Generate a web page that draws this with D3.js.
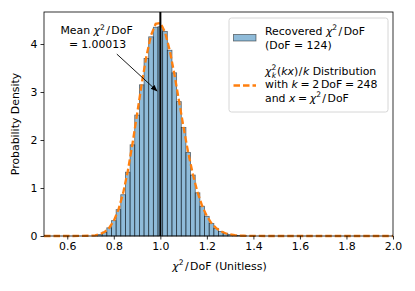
<!DOCTYPE html>
<html>
<head>
<meta charset="utf-8">
<script src="https://cdn.jsdelivr.net/npm/d3@7"></script>
<style>
  body { margin: 0; background: #fff; }
  text { font-family: "DejaVu Sans", sans-serif; fill: #000; }
</style>
</head>
<body>
<script>
// histogram bins (left edge, width 0.02) and densities
const binStart = [0.71, 0.73, 0.75, 0.77, 0.79, 0.81, 0.83, 0.85, 0.87, 0.89,
                  0.91, 0.93, 0.95, 0.97, 0.99, 1.01, 1.03, 1.05, 1.07, 1.09,
                  1.11, 1.13, 1.15, 1.17, 1.19, 1.21, 1.23, 1.25, 1.27, 1.29,
                  1.31, 1.33, 1.35];
const binWidth = 0.02;
const binHeight = [0.01, 0.03, 0.08, 0.17, 0.32, 0.55, 0.86, 1.33, 1.90, 2.52,
                   3.15, 3.70, 4.15, 4.35, 4.36, 4.26, 3.87, 3.40, 2.80, 2.26,
                   1.74, 1.27, 0.90, 0.62, 0.41, 0.26, 0.16, 0.095, 0.055, 0.03,
                   0.017, 0.009, 0.005];

// dashed reference curve
const curveX = [0.50, 0.60, 0.66, 0.70, 0.72, 0.74, 0.76, 0.78, 0.80, 0.82,
                0.84, 0.86, 0.88, 0.90, 0.92, 0.94, 0.96, 0.98, 1.00, 1.02,
                1.04, 1.06, 1.08, 1.10, 1.12, 1.14, 1.16, 1.18, 1.20, 1.22,
                1.24, 1.26, 1.28, 1.30, 1.32, 1.34, 1.36, 1.40, 1.50, 1.70, 2.00];
const curveY = [0.0, 0.0, 0.001, 0.006, 0.015, 0.037, 0.082, 0.167, 0.315, 0.550,
                0.892, 1.349, 1.911, 2.539, 3.173, 3.743, 4.182, 4.420, 4.440, 4.248,
                3.877, 3.382, 2.823, 2.258, 1.734, 1.281, 0.911, 0.624, 0.413, 0.264,
                0.164, 0.098, 0.057, 0.032, 0.018, 0.009, 0.005, 0.001, 0.0, 0.0, 0.0];

const meanValue = 1.00013;
const xTicks = [0.6, 0.8, 1.0, 1.2, 1.4, 1.6, 1.8, 2.0];
const yTicks = [0, 1, 2, 3, 4];

const W = 415, H = 291;
const margin = {top: 12, right: 22, bottom: 55, left: 44};
const width = W - margin.left - margin.right;
const height = H - margin.top - margin.bottom;
const fs = 10.9;
const ss = "7.6px"; // script size

const svg = d3.select("body").append("svg")
    .attr("width", W).attr("height", H);
const g = svg.append("g")
    .attr("transform", `translate(${margin.left},${margin.top})`);

const x = d3.scaleLinear().domain([0.5, 2.0]).range([0, width]);
const y = d3.scaleLinear().domain([0, 4.667]).range([height, 0]);

// bars
g.append("g")
    .selectAll("rect")
    .data(binStart.map((s, i) => ({s: s, h: binHeight[i]})))
    .join("rect")
    .attr("x", d => x(d.s))
    .attr("y", d => y(d.h))
    .attr("width", d => x(d.s + binWidth) - x(d.s))
    .attr("height", d => y(0) - y(d.h))
    .attr("fill", "#1f77b4").attr("fill-opacity", 0.5)
    .attr("stroke", "#000").attr("stroke-opacity", 0.55).attr("stroke-width", 0.8);

// reference curve
const line = d3.line().x(d => x(d[0])).y(d => y(d[1]));
g.append("path")
    .datum(curveX.map((v, i) => [v, curveY[i]]))
    .attr("d", line)
    .attr("fill", "none")
    .attr("stroke", "#ff7f0e")
    .attr("stroke-width", 2.3)
    .attr("stroke-dasharray", "6.5,3");

// mean line
g.append("line")
    .attr("x1", x(meanValue)).attr("x2", x(meanValue))
    .attr("y1", 0).attr("y2", height)
    .attr("stroke", "#000").attr("stroke-width", 2);

// axes
const xAxis = g.append("g")
    .attr("transform", `translate(0,${height})`)
    .call(d3.axisBottom(x).tickValues(xTicks).tickFormat(d3.format(".1f")).tickSizeOuter(0).tickSize(3.5));
const yAxis = g.append("g")
    .call(d3.axisLeft(y).tickValues(yTicks).tickFormat(d3.format("d")).tickSizeOuter(0).tickSize(3.5));
[xAxis, yAxis].forEach(a => {
    a.select(".domain").remove();
    a.selectAll("line").attr("stroke", "#000").attr("stroke-width", 0.8);
    a.selectAll("text").style("font-size", fs + "px").attr("fill", "#000")
        .style("font-family", "DejaVu Sans");
});
xAxis.selectAll("text").attr("dy", "0.75em").attr("y", 6);
yAxis.selectAll("text").attr("x", -6.5);

// frame
g.append("rect")
    .attr("width", width).attr("height", height)
    .attr("fill", "none").attr("stroke", "#000").attr("stroke-width", 0.8);

// helper for mixed math text
function mathText(sel, parts) {
    parts.forEach(p => {
        const t = sel.append("tspan").text(p.t);
        if (p.it) t.style("font-style", "italic");
        if (p.sup) t.attr("dy", -4.7).style("font-size", ss);
        if (p.down) t.attr("dy", p.down);
        if (p.dx) t.attr("dx", p.dx);
        if (p.size) t.style("font-size", p.size);
    });
    return sel;
}
// pieces for "chi^2 / DoF" in mathtext spacing
const chiDoF = [{t: "χ", it: true}, {t: "2", sup: true}, {t: "/", down: 4.7, dx: 1.3}, {t: "DoF", dx: 1.5}];

// x label
mathText(svg.append("text")
    .attr("x", margin.left + width / 2 + 1).attr("y", 270)
    .attr("text-anchor", "middle").style("font-size", fs + "px"),
    chiDoF.concat([{t: " (Unitless)"}]));

// y label
svg.append("text")
    .attr("transform", `translate(18.5,${margin.top + height / 2}) rotate(-90)`)
    .attr("text-anchor", "middle").style("font-size", fs + "px")
    .text("Probability Density");

// annotation
svg.append("defs").append("marker")
    .attr("id", "ah").attr("viewBox", "0 0 10 10")
    .attr("refX", 9).attr("refY", 5)
    .attr("markerWidth", 7).attr("markerHeight", 7)
    .attr("markerUnits", "userSpaceOnUse")
    .attr("orient", "auto")
    .append("path").attr("d", "M0,1 L10,5 L0,9 z").attr("fill", "#000");

const annX = 0.726, annY = 4.2; // text centre / first baseline in data coords
mathText(g.append("text")
    .attr("x", x(annX)).attr("y", y(annY))
    .attr("text-anchor", "middle").style("font-size", fs + "px"),
    [{t: "Mean "}].concat(chiDoF));
mathText(g.append("text")
    .attr("x", x(annX) + 1).attr("y", y(annY) + 13.5)
    .attr("text-anchor", "middle").style("font-size", fs + "px"),
    [{t: "="}, {t: "1.00013", dx: 3}]);
g.append("line")
    .attr("x1", x(0.813)).attr("y1", y(3.79))
    .attr("x2", x(0.986)).attr("y2", y(3.02))
    .attr("stroke", "#000").attr("stroke-width", 0.9)
    .attr("marker-end", "url(#ah)");

// legend
const lg = svg.append("g");
lg.append("rect")
    .attr("x", 229).attr("y", 18).attr("width", 159).attr("height", 94)
    .attr("rx", 2.5)
    .attr("fill", "#fff").attr("fill-opacity", 0.8)
    .attr("stroke", "#ccc").attr("stroke-width", 0.8);
lg.append("rect")
    .attr("x", 233.5).attr("y", 34.5).attr("width", 22.5).attr("height", 6.5)
    .attr("fill", "#1f77b4").attr("fill-opacity", 0.5)
    .attr("stroke", "#000").attr("stroke-opacity", 0.55).attr("stroke-width", 0.8);
lg.append("line")
    .attr("x1", 233.5).attr("x2", 256).attr("y1", 85.5).attr("y2", 85.5)
    .attr("stroke", "#ff7f0e").attr("stroke-width", 2.3)
    .attr("stroke-dasharray", "6.5,3");

const tx = 265;
mathText(lg.append("text").attr("x", tx).attr("y", 34.5).style("font-size", fs + "px"),
    [{t: "Recovered "}].concat(chiDoF));
lg.append("text").attr("x", tx).attr("y", 48.5).style("font-size", fs + "px")
    .text("(DoF = 124)");
mathText(lg.append("text").attr("x", tx).attr("y", 74.5).style("font-size", fs + "px"),
    [{t: "χ", it: true}, {t: "2", sup: true}, {t: "k", it: true, down: 7.7, dx: -4.5, size: ss},
     {t: "(", down: -3, dx: 0.8}, {t: "kx", it: true}, {t: ")"}, {t: "/", dx: 0.5}, {t: "k", it: true, dx: 0.5},
     {t: " Distribution"}]);
mathText(lg.append("text").attr("x", tx).attr("y", 88).style("font-size", fs + "px"),
    [{t: "with "}, {t: "k", it: true}, {t: "=", dx: 2.6}, {t: "2", dx: 2.6}, {t: "DoF", dx: 1.8},
     {t: "=", dx: 2.6}, {t: "248", dx: 2.6}]);
mathText(lg.append("text").attr("x", tx).attr("y", 101.5).style("font-size", fs + "px"),
    [{t: "and "}, {t: "x", it: true}, {t: "=", dx: 2.6}, {t: "χ", it: true, dx: 2.6}, {t: "2", sup: true},
     {t: "/", down: 4.7, dx: 1.3}, {t: "DoF", dx: 1.5}]);
</script>
</body>
</html>
